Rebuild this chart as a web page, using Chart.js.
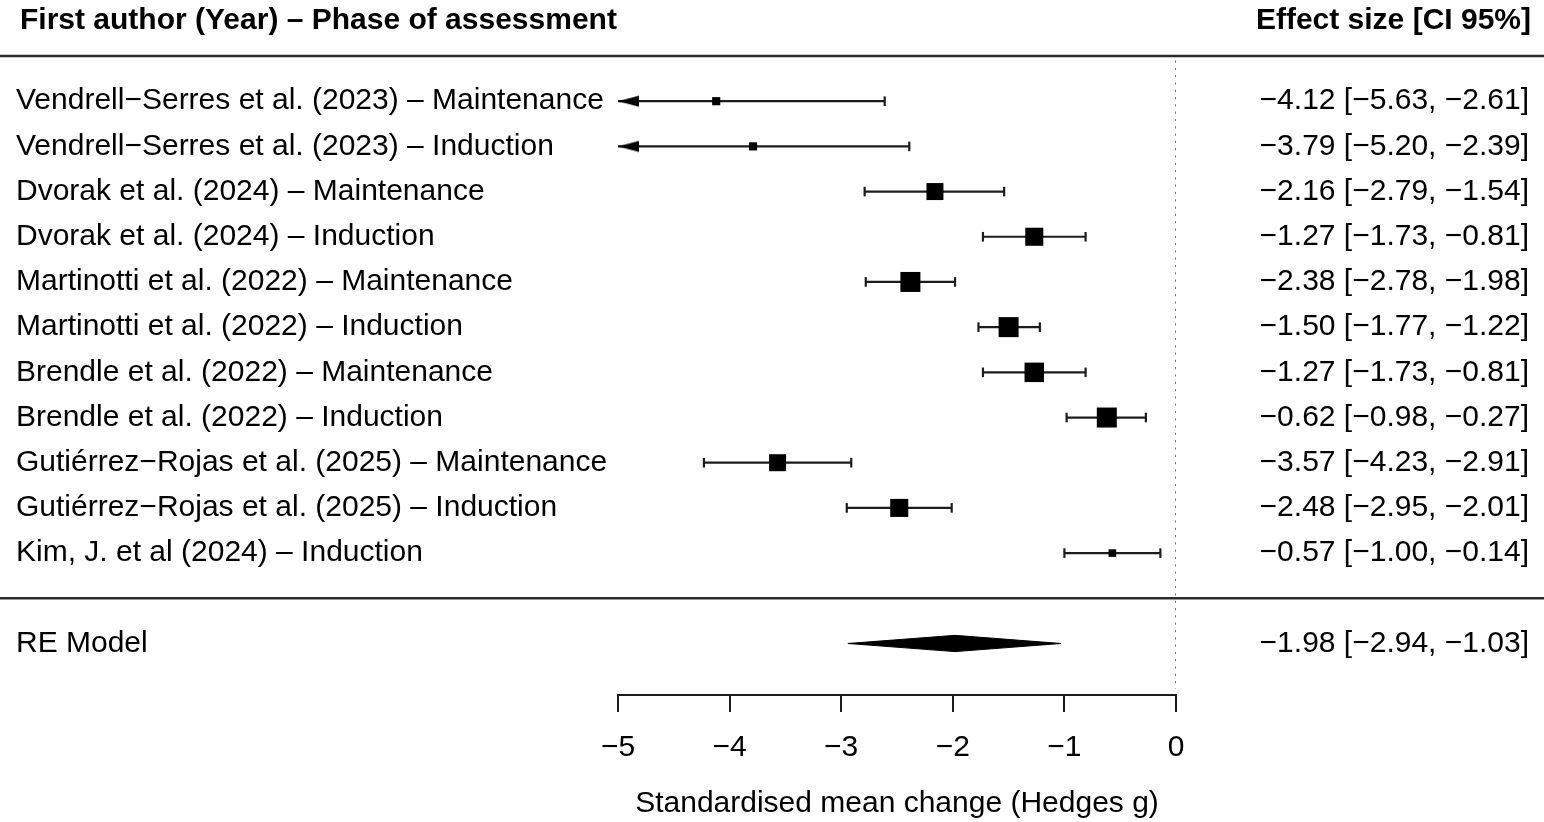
<!DOCTYPE html>
<html>
<head>
<meta charset="utf-8">
<script src="https://cdn.jsdelivr.net/npm/chart.js@4.4.1/dist/chart.umd.min.js"></script>
<style>
  html, body { margin: 0; padding: 0; background: #ffffff; }
  #wrap { width: 1544px; height: 822px; }
</style>
</head>
<body>
<div id="wrap"><canvas id="c" width="1544" height="822"></canvas></div>
<script>
// ---------------- DATA ----------------
const studies = [
  'Vendrell\u2212Serres et al. (2023)',
  'Vendrell\u2212Serres et al. (2023)',
  'Dvorak et al. (2024)',
  'Dvorak et al. (2024)',
  'Martinotti et al. (2022)',
  'Martinotti et al. (2022)',
  'Brendle et al. (2022)',
  'Brendle et al. (2022)',
  'Guti\u00e9rrez\u2212Rojas et al. (2025)',
  'Guti\u00e9rrez\u2212Rojas et al. (2025)',
  'Kim, J. et al (2024)'
];
const phases = ['Maintenance', 'Induction', 'Maintenance', 'Induction', 'Maintenance', 'Induction',
                'Maintenance', 'Induction', 'Maintenance', 'Induction', 'Induction'];
const estimates = [-4.12, -3.79, -2.16, -1.27, -2.38, -1.50, -1.27, -0.62, -3.57, -2.48, -0.57];
const lowerCI   = [-5.63, -5.20, -2.79, -1.73, -2.78, -1.77, -1.73, -0.98, -4.23, -2.95, -1.00];
const upperCI   = [-2.61, -2.39, -1.54, -0.81, -1.98, -1.22, -0.81, -0.27, -2.91, -2.01, -0.14];
const weights   = [4.6, 4.6, 9.6, 10.2, 11.3, 11.3, 11.0, 11.3, 9.6, 10.2, 4.3]; // relative study weights (%)
const pooledLabel = ['RE Model'];
const pooledValues = [-1.98, -2.94, -1.03]; // estimate, lower, upper
const xTicks = [-5, -4, -3, -2, -1, 0];
const xTitle = 'Standardised mean change (Hedges g)';
const headerLeft = 'First author (Year) \u2013 Phase of assessment';
const headerRight = 'Effect size [CI 95%]';

// ---------------- HELPERS ----------------
const FONT = "'Liberation Sans', Arial, Helvetica, sans-serif";
const INK = '#000000';
const LINE = '#1c1c1c';
const xMin = xTicks[0], xMax = xTicks[xTicks.length - 1];
const k = estimates.length;
const rows = estimates.map((_, i) => k - i);   // top study at row k
const pooledRow = -1;
const fmt = v => (v < 0 ? '\u2212' : '') + Math.abs(v).toFixed(2);
const leftLabels = studies.map((s, i) => s + ' \u2013 ' + phases[i]);
const rightLabels = estimates.map((e, i) => fmt(e) + ' [' + fmt(lowerCI[i]) + ', ' + fmt(upperCI[i]) + ']');
const pooledText = fmt(pooledValues[0]) + ' [' + fmt(pooledValues[1]) + ', ' + fmt(pooledValues[2]) + ']';
const rowTicks = rows.concat([pooledRow]);
const leftByRow = {}; const rightByRow = {};
rows.forEach((r, i) => { leftByRow[r] = leftLabels[i]; rightByRow[r] = rightLabels[i]; });
leftByRow[pooledRow] = pooledLabel[0]; rightByRow[pooledRow] = pooledText;

const PX_PER_WEIGHT = 1.77;   // square side in px per weight %
const squareRadius = weights.map(w => (w * PX_PER_WEIGHT) / Math.SQRT2);

// left-pointing arrow glyph (tip at the centre of the canvas)
const arrow = document.createElement('canvas');
arrow.width = 48; arrow.height = 16;
(function () {
  const g = arrow.getContext('2d');
  g.fillStyle = '#000';
  g.beginPath();
  g.moveTo(24, 8); g.lineTo(45, 2.5); g.lineTo(45, 13.5); g.closePath();
  g.fill();
})();

// ---------------- DATASETS ----------------
const squares = {
  label: 'estimates',
  data: estimates.map((e, i) => ({ x: e, y: rows[i] })),
  pointStyle: 'rect',
  pointRadius: squareRadius,
  pointBackgroundColor: '#000',
  pointBorderColor: '#000',
  pointBorderWidth: 0,
  showLine: false
};
const arrows = {
  label: 'arrows',
  data: lowerCI.map((l, i) => l < xMin ? { x: xMin, y: rows[i] } : null).filter(Boolean),
  pointStyle: arrow,
  pointRadius: 10,
  showLine: false
};
const whiskerData = [];
lowerCI.forEach((l, i) => {
  if (l >= xMin) whiskerData.push({ x: l, y: rows[i] });
  if (upperCI[i] <= xMax) whiskerData.push({ x: upperCI[i], y: rows[i] });
});
const whiskers = {
  label: 'whiskers',
  data: whiskerData,
  pointStyle: 'line',
  rotation: 90,
  pointRadius: 4.8,
  pointBorderWidth: 2.2,
  pointBorderColor: LINE,
  showLine: false
};
const ciLines = estimates.map((e, i) => ({
  label: 'ci' + i,
  data: [{ x: lowerCI[i], y: rows[i] }, { x: upperCI[i], y: rows[i] }],
  showLine: true,
  borderColor: LINE,
  borderWidth: 2.2,
  pointRadius: 0
}));
const DIAMOND_HALF = 0.18; // rows
const diamond = {
  label: 'pooled',
  data: [
    { x: pooledValues[1], y: pooledRow },
    { x: pooledValues[0], y: pooledRow + DIAMOND_HALF },
    { x: pooledValues[2], y: pooledRow },
    { x: pooledValues[0], y: pooledRow - DIAMOND_HALF },
    { x: pooledValues[1], y: pooledRow }
  ],
  showLine: true,
  fill: 'shape',
  backgroundColor: '#000',
  borderColor: '#000',
  borderWidth: 1,
  pointRadius: 0,
  tension: 0
};
const refLine = {
  label: 'ref',
  data: [{ x: 0, y: k + 0.9 }, { x: 0, y: -2.0 }],
  showLine: true,
  borderColor: '#777777',
  borderWidth: 2,
  borderDash: [2.2, 5.1],
  pointRadius: 0
};

// ---------------- PLUGINS ----------------
const decor = {
  id: 'decor',
  beforeDatasetsDraw(chart) {
    const ctx = chart.ctx;
    const y = chart.scales.y;
    ctx.save();
    ctx.strokeStyle = '#2a2a2a';
    ctx.lineWidth = 2.5;
    [k + 1, 0].forEach(r => {
      const py = y.getPixelForValue(r);
      ctx.beginPath(); ctx.moveTo(0, py); ctx.lineTo(chart.width, py); ctx.stroke();
    });
    ctx.restore();
  },
  afterDraw(chart) {
    const ctx = chart.ctx;
    const y = chart.scales.y;
    const py = y.getPixelForValue(k + 1.77);
    ctx.save();
    ctx.fillStyle = INK;
    ctx.font = 'bold 30px ' + FONT;
    ctx.textBaseline = 'middle';
    ctx.textAlign = 'left';
    ctx.fillText(headerLeft, chart.scales.y.left + 4, py);
    ctx.textAlign = 'right';
    ctx.fillText(headerRight, chart.scales.y2.right + 2, py);
    ctx.restore();
  }
};

// ---------------- CHART ----------------
Chart.defaults.font.family = FONT;
Chart.defaults.font.size = 30;
Chart.defaults.color = INK;

new Chart(document.getElementById('c'), {
  type: 'scatter',
  data: { datasets: [squares, arrows, whiskers, ...ciLines, diamond, refLine] },
  options: {
    responsive: false,
    animation: false,
    devicePixelRatio: 1,
    layout: { padding: { left: 16, right: 15, top: 56, bottom: 0 } },
    plugins: { legend: { display: false }, tooltip: { enabled: false }, title: { display: false } },
    scales: {
      x: {
        type: 'linear',
        min: xMin, max: xMax,
        afterBuildTicks: s => { s.ticks = xTicks.map(v => ({ value: v })); },
        ticks: {
          padding: 18,
          font: { size: 30 },
          color: INK,
          autoSkip: false,
          maxRotation: 0,
          callback: v => (v < 0 ? '\u2212' : '') + Math.abs(v)
        },
        grid: { display: true, drawOnChartArea: false, drawTicks: true, tickLength: 17, color: LINE, lineWidth: 2 },
        border: { display: true, color: LINE, width: 2 },
        title: { display: true, text: xTitle, font: { size: 30 }, color: INK, padding: { top: 2, bottom: 0 } }
      },
      y: {
        type: 'linear', position: 'left',
        min: -2.14, max: k + 1,
        afterBuildTicks: s => { s.ticks = rowTicks.map(v => ({ value: v })); },
        afterFit: s => { s.width = 602; },
        ticks: { crossAlign: 'far', autoSkip: false, color: INK, font: { size: 30 },
                 callback: v => leftByRow[v] || '' },
        grid: { display: false },
        border: { display: false }
      },
      y2: {
        type: 'linear', position: 'right',
        min: -2.14, max: k + 1,
        afterBuildTicks: s => { s.ticks = rowTicks.map(v => ({ value: v })); },
        afterFit: s => { s.width = 353; },
        ticks: { crossAlign: 'far', autoSkip: false, color: INK, font: { size: 30 },
                 callback: v => rightByRow[v] || '' },
        grid: { display: false },
        border: { display: false }
      }
    }
  },
  plugins: [decor]
});
</script>
</body>
</html>
